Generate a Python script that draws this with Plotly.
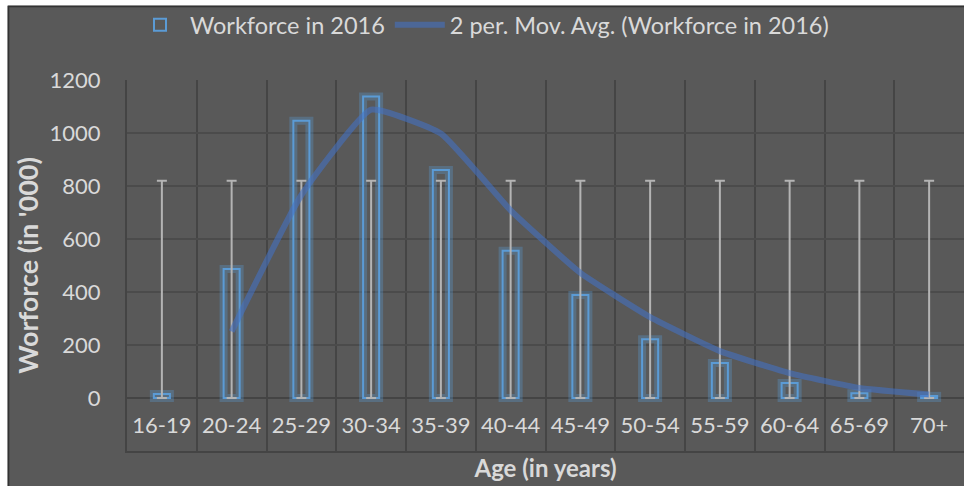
import plotly.graph_objects as go

categories = ["16-19", "20-24", "25-29", "30-34", "35-39", "40-44", "45-49",
              "50-54", "55-59", "60-64", "65-69", "70+"]
workforce = [15, 487, 1046, 1138, 860, 556, 389, 222, 132, 57, 18, 8]
mov_avg = [None, 251, 766, 1088, 998, 708, 472, 305, 177, 94, 38, 13]
err_top = [820] * 12
err_bottom = [0] * 12

BG = "#595959"
TXT = "#d9d9d9"
GRID = "#4b4b4b"
BLUE = "#5b9bd5"
FONT = "Lato"

fig = go.Figure()

# glow behind bars
fig.add_trace(go.Bar(
    x=categories, y=workforce, width=0.23,
    marker=dict(color="rgba(0,0,0,0)", line=dict(color="rgba(91,155,213,0.32)", width=8)),
    showlegend=False, hoverinfo="skip",
))
fig.add_trace(go.Bar(
    x=categories, y=workforce, width=0.23, name="Workforce in 2016",
    marker=dict(color="rgba(0,0,0,0)", line=dict(color=BLUE, width=2)),
))
# error bars from 0 to 820
fig.add_trace(go.Scatter(
    x=categories, y=err_bottom, mode="markers",
    marker=dict(size=1, color="rgba(0,0,0,0)"),
    error_y=dict(type="data", symmetric=False, array=err_top, arrayminus=err_bottom,
                 color="#b4b4b4", thickness=2, width=5),
    showlegend=False, hoverinfo="skip",
))
fig.add_trace(go.Scatter(
    x=categories, y=mov_avg, mode="lines", name="2 per. Mov. Avg. (Workforce in 2016)",
    line=dict(color="rgba(68,114,196,0.58)", width=6, shape="spline", smoothing=0.4),
    connectgaps=False,
))

# figure frame: white strips at top and left, dark border
L, R, T, B = 127, 964, 80, 451
W, H = R - L, B - T
def px_x(p):
    return (p - L) / W
def px_y(p):
    return (B - p) / H

shapes = [
    dict(type="rect", xref="paper", yref="paper", x0=px_x(-20), x1=px_x(1000),
         y0=px_y(5.5), y1=px_y(-20), fillcolor="white", line=dict(width=0), layer="above"),
    dict(type="rect", xref="paper", yref="paper", x0=px_x(-20), x1=px_x(7.5),
         y0=px_y(500), y1=px_y(-20), fillcolor="white", line=dict(width=0), layer="above"),
    dict(type="line", xref="paper", yref="paper", x0=px_x(8), x1=px_x(1000),
         y0=px_y(6.5), y1=px_y(6.5), line=dict(color="#333333", width=1.5), layer="above"),
    dict(type="line", xref="paper", yref="paper", x0=px_x(8.5), x1=px_x(8.5),
         y0=px_y(6), y1=px_y(500), line=dict(color="#333333", width=1.5), layer="above"),
]

fig.update_layout(
    width=964, height=486,
    margin=dict(l=L, r=964 - R, t=T, b=486 - B, autoexpand=False),
    paper_bgcolor=BG, plot_bgcolor=BG,
    barmode="overlay",
    font=dict(family=FONT, size=22, color=TXT),
    legend=dict(orientation="h", x=px_x(482), y=px_y(25), xanchor="center", yanchor="middle",
                font=dict(size=23.5, color=TXT), bgcolor="rgba(0,0,0,0)", itemwidth=50,
                tracegroupgap=0),
    shapes=shapes,
    xaxis=dict(
        type="category", tickson="boundaries", showgrid=True, gridcolor="#454545", gridwidth=2,
        ticks="", ticklabelposition="inside", ticklabelstandoff=15, automargin=False,
        tickfont=dict(size=22, color=TXT), showline=True, linecolor="#444444", linewidth=2,
        title=dict(text="<b>Age (in years)</b>", font=dict(size=24, color=TXT), standoff=23),
        range=[-0.5, 11.5],
    ),
    yaxis=dict(
        range=[-200, 1200], dtick=200, tick0=0, showgrid=True, gridcolor=GRID, gridwidth=2,
        zeroline=True, zerolinecolor="#444444", zerolinewidth=2, automargin=False,
        ticks="", ticklabelstandoff=20, tickfont=dict(size=22, color=TXT),
        showline=True, linecolor="#444444", linewidth=2,
        title=dict(text="<b>Worforce (in '000)</b>", font=dict(size=27, color=TXT), standoff=3),
    ),
)

fig.write_html(
    "out.html",
    config={"displayModeBar": False},
    post_script="document.body.style.margin='0';document.body.style.overflow='hidden';",
)
